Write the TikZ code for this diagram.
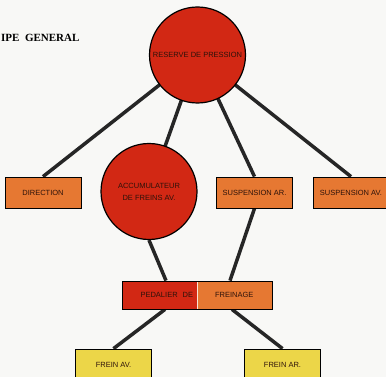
\documentclass[tikz,border=0pt]{standalone}
\usepackage{fontspec}
\setmainfont{Liberation Serif}
\setsansfont{Liberation Sans}
\usetikzlibrary{backgrounds}

\definecolor{tankred}{RGB}{210,40,20}
\definecolor{organorange}{RGB}{230,120,50}
\definecolor{brakeyellow}{RGB}{236,214,72}
\definecolor{paper}{RGB}{248,248,246}
\definecolor{ink}{RGB}{45,18,10}

\begin{document}
\begin{tikzpicture}[
    x=1pt, y=-1pt,
    label text/.style={font=\sffamily\fontsize{7.5}{12}\selectfont, text=ink},
    organ/.style={rectangle, draw, line width=0.8pt, minimum width=76pt, minimum height=31pt, inner sep=0pt, label text},
    tank/.style={circle, draw, line width=1.2pt, fill=tankred, minimum size=96pt, inner sep=0pt, align=center, label text},
    pipe/.style={line width=3.5pt, black!85},
]
\clip (0,0) rectangle (386,377);

% Title (cut at the left edge)
\node[anchor=base west, inner sep=0pt, font=\bfseries\fontsize{11}{13}\selectfont] (title) at (1,42) {IPE\ \ GENERAL};

% Pressure sources
\node[tank] (res) at (197.5,55) {RESERVE DE PRESSION};
\node[tank] (acc) at (149,191.5) {ACCUMULATEUR\\DE FREINS AV.};

% Users
\node[organ, fill=organorange] (dir) at (43,192.5) {DIRECTION};
\node[organ, fill=organorange] (susar) at (254.5,192.5) {SUSPENSION AR.};
\node[organ, fill=organorange] (susav) at (351,192.5) {SUSPENSION AV.};

% Brake pedal unit, half red half orange
\node[organ, minimum width=150pt, minimum height=28pt,
      path picture={
        \fill[organorange] (path picture bounding box.south west) rectangle (path picture bounding box.north east);
        \fill[tankred] (path picture bounding box.south west) rectangle (path picture bounding box.north);
        \draw[white!80!organorange, line width=0.6pt] (path picture bounding box.south) -- (path picture bounding box.north);
      }] (ped) at (197,295) {PEDALIER\hspace{5pt}DE\hspace{22pt}FREINAGE};
\coordinate (pedtl) at ([xshift=-31pt]ped.north);
\coordinate (pedtr) at ([xshift=33pt]ped.north);
\coordinate (pedbl) at ([xshift=-32pt]ped.south);
\coordinate (pedbr) at ([xshift=35pt]ped.south);

% Brakes
\node[organ, fill=brakeyellow] (frav) at (113.5,364.5) {FREIN AV.};
\node[organ, fill=brakeyellow] (frar) at (282.5,364.5) {FREIN AR.};

% Pipes
\begin{scope}[on background layer]
\fill[paper] (0,0) rectangle (386,377);
\draw[pipe] (res.center) -- (dir.north);
\draw[pipe] (res.center) -- (acc.center);
\draw[pipe] (res.center) -- (susar.north);
\draw[pipe] (res.center) -- (susav.north);
\draw[pipe] (acc.south) -- (pedtl);
\draw[pipe] (susar.south) -- (pedtr);
\draw[pipe] (pedbl) -- (frav.north);
\draw[pipe] (pedbr) -- (frar.north);
\end{scope}

\end{tikzpicture}
\end{document}
